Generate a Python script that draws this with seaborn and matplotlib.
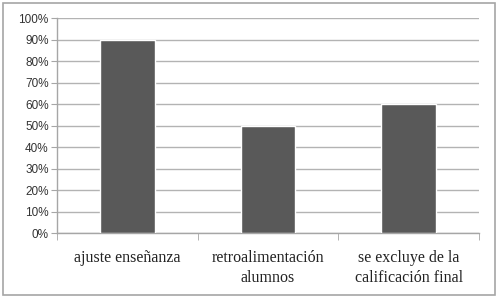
import numpy as np
import pandas as pd
import matplotlib
matplotlib.use("Agg")
import matplotlib.pyplot as plt
import seaborn as sns
from matplotlib.patches import Rectangle
from matplotlib.ticker import PercentFormatter
from matplotlib.font_manager import FontProperties

# data
categories = ["ajuste enseñanza", "retroalimentación\nalumnos", "se excluye de la\ncalificación final"]
values = [90, 50, 60]
y_ticks = list(range(0, 101, 10))

df = pd.DataFrame({"cat": categories, "val": values})

sns.set_style("white")
plt.rcParams["font.family"] = ["Liberation Sans", "DejaVu Sans"]

fig = plt.figure(figsize=(5, 2.97), dpi=100)
ax = fig.add_axes([0.114, 0.215, 0.844, 0.724])

sns.barplot(data=df, x="cat", y="val", color="#595959", saturation=1, width=0.39, ax=ax, zorder=3)

ax.set_ylim(0, 100)
ax.set_xlim(-0.5, len(categories) - 0.5)
ax.set_yticks(y_ticks)
ax.yaxis.set_major_formatter(PercentFormatter(decimals=0))
ax.grid(axis="y", color="#b3b3b3", linewidth=1, zorder=0)
ax.set_axisbelow(True)
ax.set_xlabel("")
ax.set_ylabel("")

for s in ["top", "right"]:
    ax.spines[s].set_visible(False)
for s in ["left", "bottom"]:
    ax.spines[s].set_color("#a6a6a6")
    ax.spines[s].set_linewidth(1)

ax.tick_params(axis="y", length=4, color="#a6a6a6", labelsize=8.5, labelcolor="#333333", pad=2, left=True)

# boundary tick marks as minor ticks, category names drawn as serif text
ax.set_xticks(np.arange(-0.5, len(categories), 1), minor=True)
ax.tick_params(axis="x", which="minor", length=5, color="#a6a6a6", bottom=True)
ax.set_xticks(range(len(categories)), [""] * len(categories))
ax.tick_params(axis="x", which="major", length=0)
serif = FontProperties(family="Liberation Serif", size=11.5)
for i, name in enumerate(categories):
    ax.text(i, -0.08, name, transform=ax.get_xaxis_transform(), ha="center", va="top",
            fontproperties=serif, color="#222222", linespacing=1.3)

fig.patches.append(Rectangle((0.006, 0.006), 0.984, 0.984, transform=fig.transFigure,
                             fill=False, edgecolor="#a6a6a6", linewidth=1.2))

fig.savefig("out.png", dpi=100)
